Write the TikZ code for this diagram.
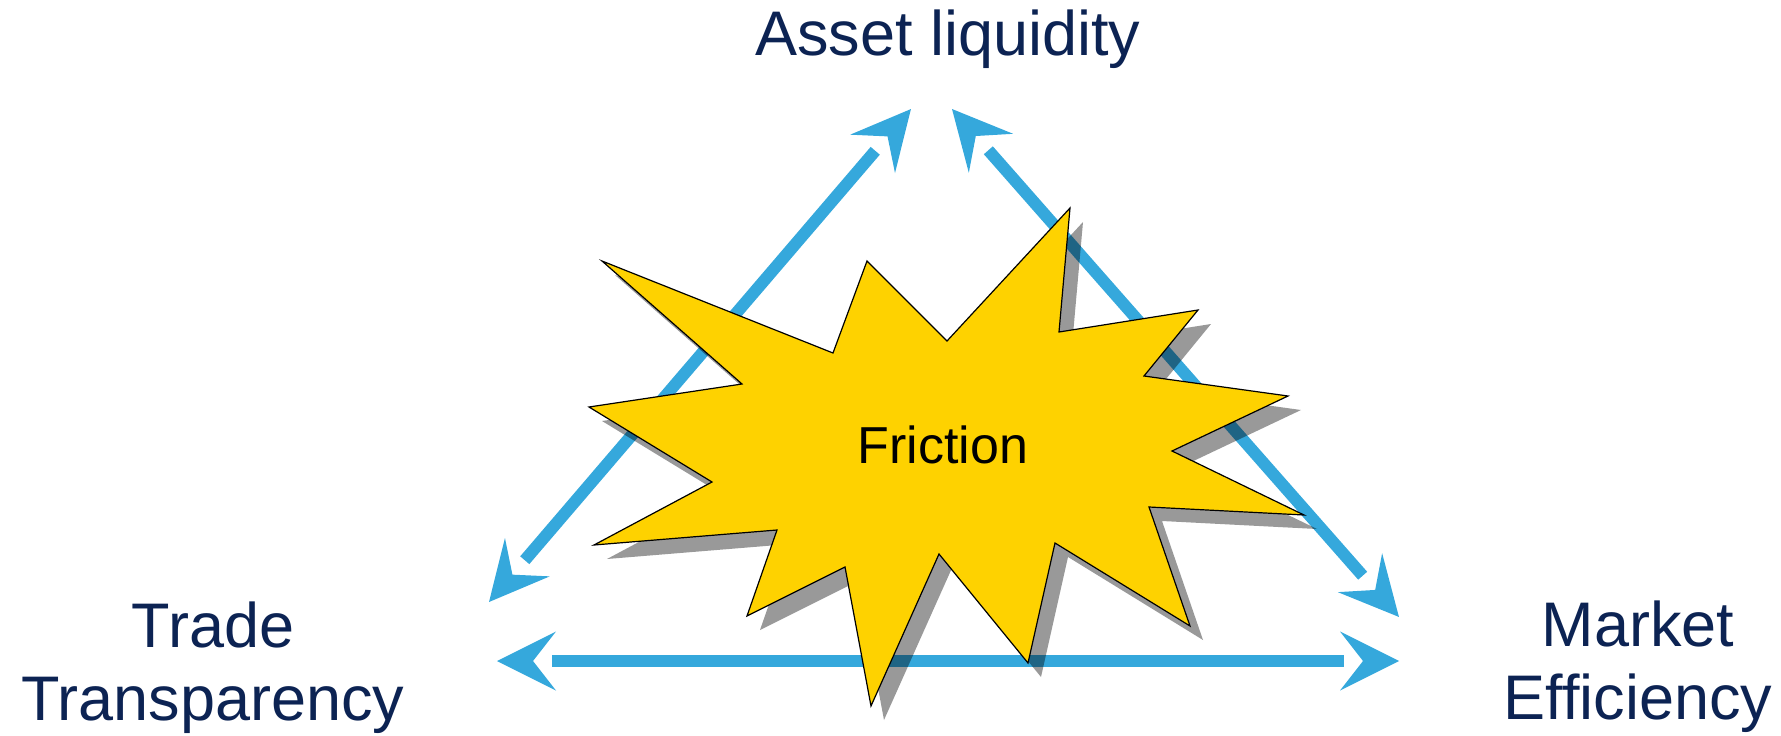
\documentclass[tikz,border=0pt]{standalone}
\usepackage{fontspec}
\setmainfont{Liberation Sans}
\usetikzlibrary{decorations.markings}

\definecolor{navy}{RGB}{12,35,83}
\definecolor{linkblue}{RGB}{53,168,220}
\definecolor{burst}{RGB}{254,210,0}

\tikzset{
  lbl/.style={inner sep=0pt, text=navy, font=\fontsize{63}{73}\selectfont},
  link/.style={draw=linkblue, line width=12pt, shorten <=55pt, shorten >=55pt,
    postaction={decorate, decoration={markings,
      mark=at position 0 with {\fill[linkblue, shorten <=0pt, shorten >=0pt]
        (0,0) -- (59,29.5) -- (36,0) -- (59,-29.5) -- cycle;},
      mark=at position 1 with {\fill[linkblue, shorten <=0pt, shorten >=0pt]
        (0,0) -- (-59,29.5) -- (-36,0) -- (-59,-29.5) -- cycle;}}}},
  burstshape/.pic={
    \path[pic actions] (602,261) -- (833,353) -- (867,261) -- (947,341)
      -- (1070,208) -- (1059,332) -- (1198,310) -- (1144,376)
      -- (1288,396) -- (1172,451) -- (1304,515) -- (1149,507)
      -- (1190,626) -- (1055,543) -- (1028,663) -- (939,554)
      -- (871,706) -- (845,567) -- (747,616) -- (777,530)
      -- (594,545) -- (712,482) -- (589,407) -- (742,384) -- cycle;
  },
}

\begin{document}
\begin{tikzpicture}[x=1pt, y=-1pt]
  \useasboundingbox (0,0) rectangle (1781,736);

  % corner labels (anchor=base sits on the last line of a two-line label)
  \node[lbl, anchor=base] (asset) at (948,55) {Asset liquidity};
  \node[lbl, anchor=base, align=center] (trade) at (213,720) {Trade\\Transparency};
  \node[lbl, anchor=base, align=center] (market) at (1638,719) {Market\\Efficiency};

  % arrow tip positions next to the labels
  \coordinate (assetL) at (911,109);
  \coordinate (assetR) at (952,109);
  \coordinate (tradeD) at (489,602);
  \coordinate (tradeH) at (497,661);
  \coordinate (marketD) at (1399,617);
  \coordinate (marketH) at (1399,661);

  % double-headed connectors
  \draw[link] (tradeD) -- (assetL);
  \draw[link] (assetR) -- (marketD);
  \draw[link] (tradeH) -- (marketH);

  % burst with drop shadow
  \pic[fill=black, opacity=0.4] at (13,14) {burstshape};
  \pic[fill=burst, draw=black, line width=1.2pt, line join=miter] at (0,0) {burstshape};

  \node[inner sep=0pt, font=\fontsize{52}{60}\selectfont, anchor=base] (friction) at (943,463) {Friction};
\end{tikzpicture}
\end{document}
